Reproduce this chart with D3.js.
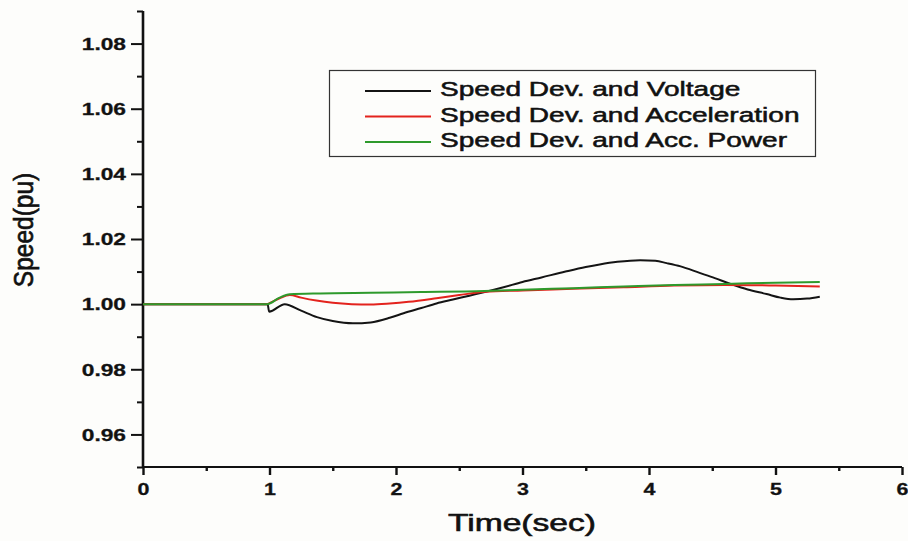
<!DOCTYPE html>
<html>
<head>
<meta charset="utf-8">
<script src="https://cdn.jsdelivr.net/npm/d3@7"></script>
<style>
  html, body { margin: 0; padding: 0; background: #fdfdfb; }
  svg { display: block; }
  text { font-family: "Liberation Sans", Arial, sans-serif; fill: #111; }
</style>
</head>
<body>
<svg id="chart" width="908" height="541"></svg>
<script>
// Speed response of the machine for three stabiliser input combinations

// Axis ticks
const xMajorTicks = [0, 1, 2, 3, 4, 5, 6];
const xMinorTicks = [0.5, 1.5, 2.5, 3.5, 4.5, 5.5];
const yMajorTicks = [0.96, 0.98, 1.00, 1.02, 1.04, 1.06, 1.08];
const yMinorTicks = [0.95, 0.97, 0.99, 1.01, 1.03, 1.05, 1.07, 1.09];

// Speed Dev. and Voltage (black)
const voltageTime  = [0, 0.985, 0.997, 1.12, 1.25, 1.375, 1.5, 1.66, 1.8, 1.95, 2.06, 2.2, 2.32, 2.45, 2.58, 2.71, 2.85, 3.0, 3.15, 3.34, 3.5, 3.61, 3.75, 3.93, 4.05, 4.14, 4.25, 4.4, 4.52, 4.64, 4.78, 4.93, 5.04, 5.14, 5.25, 5.35];
const voltageSpeed = [1.000, 1.000, 0.9977, 1.0000, 0.9980, 0.9960, 0.9948, 0.9941, 0.9944, 0.9958, 0.9972, 0.9988, 1.0002, 1.0014, 1.0026, 1.0038, 1.0052, 1.0068, 1.0082, 1.0100, 1.0114, 1.0122, 1.0130, 1.0135, 1.0133, 1.0126, 1.0116, 1.0096, 1.0080, 1.0063, 1.0045, 1.0031, 1.0020, 1.0015, 1.0017, 1.0023];

// Speed Dev. and Acceleration (red)
const accelTime  = [0, 0.98, 1.0, 1.08, 1.16, 1.25, 1.37, 1.5, 1.65, 1.8, 1.95, 2.1, 2.32, 2.5, 2.71, 3.0, 3.4, 3.8, 4.2, 4.6, 5.0, 5.35];
const accelSpeed = [1.000, 1.000, 1.0003, 1.0018, 1.0028, 1.0020, 1.0011, 1.0004, 1.0000, 0.9999, 1.0002, 1.0007, 1.0018, 1.0028, 1.0038, 1.0042, 1.0047, 1.0052, 1.0057, 1.0059, 1.0057, 1.0054];

// Speed Dev. and Acc. Power (green)
const powerTime  = [0, 0.98, 1.08, 1.16, 1.4, 1.8, 2.2, 2.7, 3.0, 3.4, 3.8, 4.2, 4.6, 5.0, 5.35];
const powerSpeed = [1.000, 1.000, 1.0020, 1.0030, 1.0033, 1.0035, 1.0037, 1.0040, 1.0044, 1.0049, 1.0054, 1.0059, 1.0062, 1.0066, 1.0068];

const seriesNames  = ["Speed Dev. and Voltage", "Speed Dev. and Acceleration", "Speed Dev. and Acc. Power"];
const seriesColors = ["#141414", "#e3231d", "#2e9a2c"];

const svg = d3.select("#chart");

// Text in this figure runs wide relative to its height
function widen(sel, factor) {
  sel.each(function () {
    const w = this.getComputedTextLength();
    d3.select(this).attr("textLength", w * factor).attr("lengthAdjust", "spacingAndGlyphs");
  });
}

const x = d3.scaleLinear().domain([0, 6]).range([143, 902]);
const y = d3.scaleLinear().domain([0.95, 1.09]).range([467, 11]);

// Left axis: major ticks with labels, minor ticks without
const yAxisG = svg.append("g").attr("transform", `translate(${x(0)},0)`);
yAxisG.call(d3.axisLeft(y).tickValues(yMajorTicks).tickSize(12).tickSizeOuter(0)
  .tickFormat(d3.format(".2f")));
yAxisG.select(".domain").remove();
yAxisG.selectAll(".tick line").attr("stroke", "#111").attr("stroke-width", 2);
yAxisG.selectAll(".tick text")
  .attr("x", -17).attr("dy", "0.36em")
  .attr("font-size", 16).attr("font-weight", "bold")
  .attr("font-family", "Liberation Sans, Arial, sans-serif").attr("fill", "#1a1a1a")
  .attr("stroke", "#1a1a1a").attr("stroke-width", 0.3);
widen(yAxisG.selectAll(".tick text"), 1.42);

const yMinorG = svg.append("g").attr("transform", `translate(${x(0)},0)`);
yMinorG.call(d3.axisLeft(y).tickValues(yMinorTicks).tickSize(6).tickSizeOuter(0).tickFormat(""));
yMinorG.select(".domain").remove();
yMinorG.selectAll(".tick line").attr("stroke", "#111").attr("stroke-width", 2);

// Bottom axis
const xAxisG = svg.append("g").attr("transform", `translate(0,${y(0.95)})`);
xAxisG.call(d3.axisBottom(x).tickValues(xMajorTicks).tickSize(8).tickSizeOuter(0)
  .tickFormat(d3.format("d")));
xAxisG.select(".domain").remove();
xAxisG.selectAll(".tick line").attr("stroke", "#111").attr("stroke-width", 2.4);
xAxisG.selectAll(".tick text")
  .attr("y", 16).attr("dy", "0.71em")
  .attr("font-size", 16.5).attr("font-weight", "bold")
  .attr("font-family", "Liberation Sans, Arial, sans-serif").attr("fill", "#1a1a1a")
  .attr("stroke", "#1a1a1a").attr("stroke-width", 0.3);
widen(xAxisG.selectAll(".tick text"), 1.3);

const xMinorG = svg.append("g").attr("transform", `translate(0,${y(0.95)})`);
xMinorG.call(d3.axisBottom(x).tickValues(xMinorTicks).tickSize(4).tickSizeOuter(0).tickFormat(""));
xMinorG.select(".domain").remove();
xMinorG.selectAll(".tick line").attr("stroke", "#111").attr("stroke-width", 2.4);

// Axis lines
svg.append("line").attr("x1", x(0)).attr("x2", x(0)).attr("y1", y(1.09)).attr("y2", y(0.95))
  .attr("stroke", "#111").attr("stroke-width", 2.6);
svg.append("line").attr("x1", x(0)).attr("x2", x(6)).attr("y1", y(0.95)).attr("y2", y(0.95))
  .attr("stroke", "#111").attr("stroke-width", 2);

// Curves
const line = d3.line()
  .x(d => x(d[0]))
  .y(d => y(d[1]))
  .curve(d3.curveMonotoneX);

const series = [
  d3.zip(voltageTime, voltageSpeed),
  d3.zip(accelTime, accelSpeed),
  d3.zip(powerTime, powerSpeed)
];

svg.append("g").selectAll("path")
  .data(series)
  .join("path")
  .attr("d", line)
  .attr("fill", "none")
  .attr("stroke", (d, i) => seriesColors[i])
  .attr("stroke-width", 2)
  .attr("stroke-linejoin", "round");

// Axis titles
const xTitle = svg.append("text")
  .attr("x", 522).attr("y", 531)
  .attr("text-anchor", "middle")
  .attr("font-size", 24)
  .attr("stroke", "#111").attr("stroke-width", 0.6)
  .text("Time(sec)");
widen(xTitle, 1.4);

svg.append("text")
  .attr("transform", "translate(33,230) scale(1.1,1) rotate(-90)")
  .attr("text-anchor", "middle")
  .attr("font-size", 24.5)
  .attr("stroke", "#111").attr("stroke-width", 0.6)
  .text("Speed(pu)");

// Legend
const legend = svg.append("g");
legend.append("rect")
  .attr("x", 329.5).attr("y", 70.5).attr("width", 486).attr("height", 86)
  .attr("fill", "none").attr("stroke", "#333").attr("stroke-width", 1.2);

const legendRows = legend.selectAll("g.row")
  .data(seriesNames)
  .join("g")
  .attr("class", "row")
  .attr("transform", (d, i) => `translate(0,${96 + i * 25.5})`);

legendRows.append("line")
  .attr("x1", 365).attr("x2", 431)
  .attr("y1", -5).attr("y2", -5)
  .attr("stroke", (d, i) => seriesColors[i])
  .attr("stroke-width", 2);

const legendText = legendRows.append("text")
  .attr("x", 440).attr("y", 0)
  .attr("font-size", 21)
  .attr("stroke", "#111").attr("stroke-width", 0.55)
  .text(d => d);
widen(legendText, 1.335);
</script>
</body>
</html>
